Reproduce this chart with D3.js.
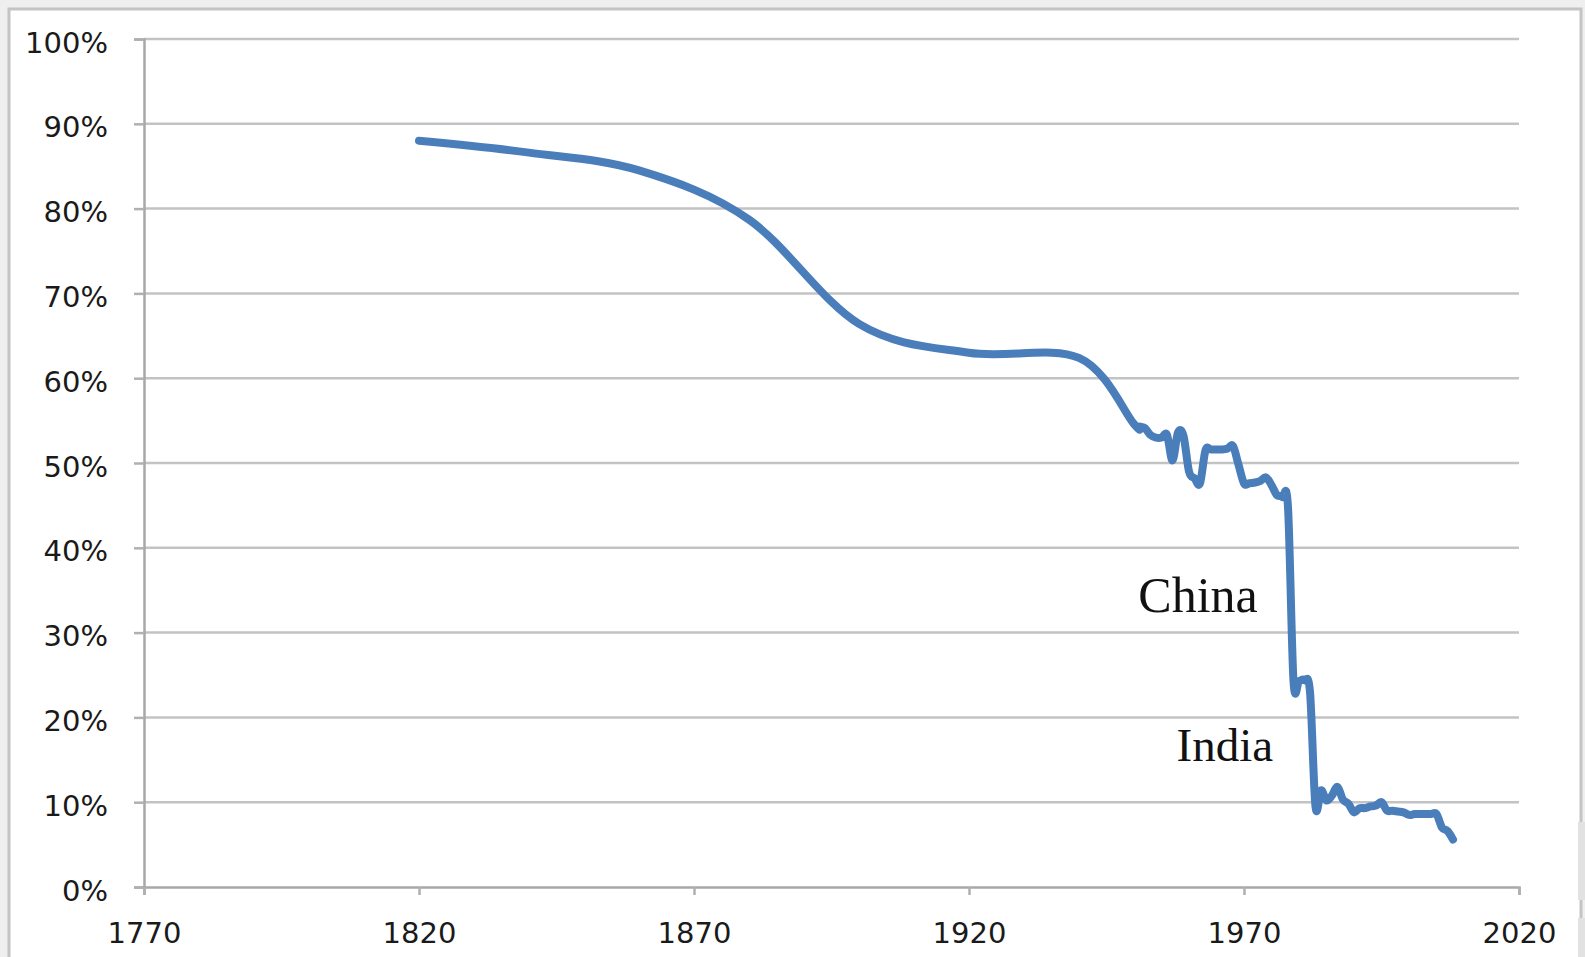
<!DOCTYPE html>
<html>
<head>
<meta charset="utf-8">
<script src="https://cdn.jsdelivr.net/npm/d3@7"></script>
<style>
  body { margin: 0; background: #efefef; }
  svg { display: block; }
</style>
</head>
<body>
<svg id="chart" width="1585" height="957"></svg>
<script>
// share of population (percent)
const years = [1820, 1840, 1860, 1880, 1900, 1920, 1940,
  1950, 1951, 1952, 1953, 1954, 1955, 1956, 1957, 1958, 1959,
  1960, 1961, 1962, 1963, 1964, 1965, 1966, 1967, 1968, 1969,
  1970, 1971, 1972, 1973, 1974, 1975, 1976, 1977, 1978, 1979,
  1980, 1981, 1982, 1983, 1984, 1985, 1986, 1987, 1988, 1989,
  1990, 1991, 1992, 1993, 1994, 1995, 1996, 1997, 1998, 1999,
  2000, 2001, 2002, 2003, 2004, 2005, 2006, 2007, 2008];
const share = [88.0, 86.6, 84.5, 78.7, 66.4, 63.0, 62.4,
  54.6, 54.3, 54.1, 53.3, 53.0, 53.0, 53.3, 50.3, 53.6, 53.2,
  49.0, 48.2, 47.6, 51.5, 51.6, 51.6, 51.6, 51.7, 52.0, 49.8,
  47.6, 47.6, 47.7, 47.9, 48.3, 47.4, 46.2, 46.0, 44.8, 24.3,
  24.3, 24.4, 23.0, 9.5, 11.4, 10.2, 10.8, 11.8, 10.3, 9.8,
  8.8, 9.3, 9.3, 9.5, 9.6, 10.0, 9.0, 9.0, 8.9, 8.8,
  8.5, 8.6, 8.6, 8.6, 8.6, 8.6, 7.0, 6.6, 5.6];

const xTicks = [1770, 1820, 1870, 1920, 1970, 2020];
const yTicks = [0, 10, 20, 30, 40, 50, 60, 70, 80, 90, 100];

const labels = [
  { text: "China", year: 1972.5, value: 32.4, size: 50 },
  { text: "India", year: 1975.3, value: 14.8, size: 47 }
];

const svg = d3.select("#chart");

// frame
svg.append("rect").attr("x", 0).attr("y", 0).attr("width", 1585).attr("height", 957).attr("fill", "#efefef");
svg.append("rect")
  .attr("x", 9).attr("y", 9).attr("width", 1572).attr("height", 970)
  .attr("fill", "#fff").attr("stroke", "#c4c4c4").attr("stroke-width", 3);
svg.append("rect").attr("x", 1578).attr("y", 822).attr("width", 7).attr("height", 78).attr("fill", "#e2e2e2");
svg.append("rect").attr("x", 1578).attr("y", 918).attr("width", 7).attr("height", 39).attr("fill", "#e2e2e2");

const x = d3.scaleLinear().domain([1770, 2020]).range([144, 1519]);
const y = d3.scaleLinear().domain([0, 100]).range([887, 39]);

// gridlines
svg.append("g")
  .selectAll("line")
  .data(yTicks.filter(d => d > 0))
  .enter()
  .append("line")
  .attr("x1", x(1770)).attr("x2", x(2020))
  .attr("y1", d => y(d)).attr("y2", d => y(d))
  .attr("stroke", "#c3c3c3")
  .attr("stroke-width", 2.5);

// y axis
const yAxis = svg.append("g")
  .attr("transform", `translate(${x(1770)},0)`)
  .call(d3.axisLeft(y).tickValues(yTicks).tickSize(10).tickPadding(26).tickFormat(d => d + "%"));

// x axis
const xAxis = svg.append("g")
  .attr("transform", `translate(0,${y(0)})`)
  .call(d3.axisBottom(x).tickValues(xTicks).tickSize(8).tickPadding(27).tickFormat(d3.format("d")));

[yAxis, xAxis].forEach(g => {
  g.select(".domain").attr("stroke", "#a8a8a8").attr("stroke-width", 2.5);
  g.selectAll(".tick line").attr("stroke", "#b0b0b0").attr("stroke-width", 2.5);
  g.selectAll(".tick text")
    .attr("fill", "#1a1a1a")
    .style("font-family", "'DejaVu Sans', sans-serif")
    .style("font-size", "29px");
});
yAxis.selectAll(".tick text").attr("dy", "0.45em");

// line
const line = d3.line()
  .x((d, i) => x(years[i]))
  .y(d => y(d))
  .curve(d3.curveCardinal.tension(0));

svg.append("path")
  .datum(share)
  .attr("d", line)
  .attr("fill", "none")
  .attr("stroke", "#4a7ebb")
  .attr("stroke-width", 8)
  .attr("stroke-linejoin", "round")
  .attr("stroke-linecap", "round");

// annotations
svg.append("g")
  .selectAll("text")
  .data(labels)
  .enter()
  .append("text")
  .attr("x", d => x(d.year))
  .attr("y", d => y(d.value))
  .attr("text-anchor", "end")
  .style("font-family", "'Liberation Serif', serif")
  .style("font-size", d => d.size + "px")
  .attr("fill", "#111")
  .text(d => d.text);
</script>
</body>
</html>
